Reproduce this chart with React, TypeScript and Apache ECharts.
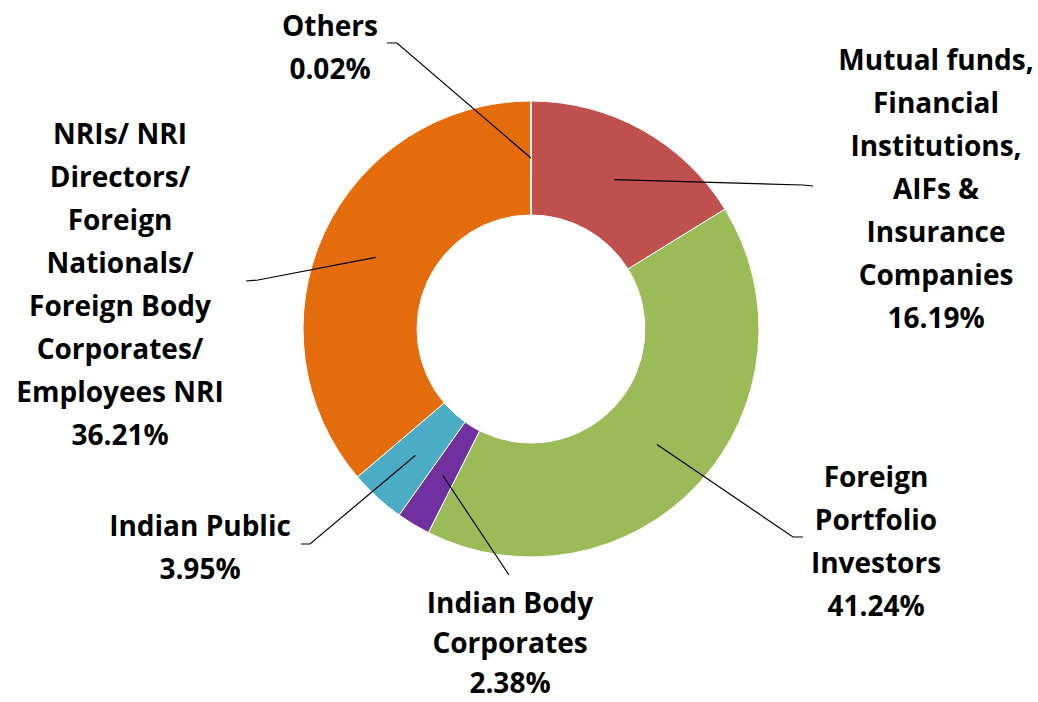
import React, { useEffect, useRef } from "react";
import * as echarts from "echarts";

const categories = [
  "Mutual funds,\nFinancial\nInstitutions,\nAIFs &\nInsurance\nCompanies",
  "Foreign\nPortfolio\nInvestors",
  "Indian Body\nCorporates",
  "Indian Public",
  "NRIs/ NRI\nDirectors/\nForeign\nNationals/\nForeign Body\nCorporates/\nEmployees NRI",
  "Others",
];
const values = [16.19, 41.24, 2.38, 3.95, 36.21, 0.02];
const colors = ["#C0504D", "#9BBB59", "#7030A0", "#4BACC6", "#E46C0A", "#8064A2"];

// label layout (center of text block, elbow and end of leader line)
const labelPos = [
  { x: 936, y: 188, lh: 43, elbow: [803, 185], end: [813, 186] },
  { x: 876, y: 540, lh: 43, elbow: [793, 537], end: [803, 537] },
  { x: 510, y: 642, lh: 40, elbow: [509, 575], end: [509, 575] },
  { x: 200, y: 546, lh: 43, elbow: [310, 544], end: [301, 544] },
  { x: 120, y: 283, lh: 43, elbow: [258, 280], end: [246, 281] },
  { x: 330, y: 46, lh: 43, elbow: [397, 43], end: [387, 43] },
];

const CX = 531;
const CY = 329;
const R_IN = 114;
const R_OUT = 228;

export default function App() {
  const ref = useRef<HTMLDivElement>(null);
  useEffect(() => {
    document.body.style.margin = "0";
    if (!ref.current) return;
    const chart = echarts.init(ref.current, null, { renderer: "svg" });
    const total = values.reduce((a, b) => a + b, 0);
    const cum: number[] = [];
    let acc = 0;
    values.forEach((v) => {
      cum.push(acc);
      acc += v;
    });
    const rMid = (R_IN + R_OUT) / 2;
    const common = {
      type: "pie",
      center: [CX, CY],
      radius: [R_IN, R_OUT],
      startAngle: 90,
      clockwise: true,
      avoidLabelOverlap: false,
      minShowLabelAngle: 0,
      silent: true,
      emphasis: { disabled: true },
    };
    chart.setOption({
      animation: false,
      backgroundColor: "#ffffff",
      series: [
        {
          ...common,
          z: 2,
          data: categories.map((name, i) => ({
            name,
            value: values[i],
            itemStyle: { color: colors[i] },
          })),
          itemStyle: { borderColor: "#ffffff", borderWidth: 1 },
          label: { show: false },
          labelLine: { show: false },
        },
        {
          ...common,
          z: 5,
          data: categories.map((name, i) => ({
            name,
            value: values[i],
            label: { lineHeight: labelPos[i].lh },
          })),
          itemStyle: { color: "rgba(0,0,0,0)", borderWidth: 0 },
          label: {
            show: true,
            position: "outside",
            color: "#000000",
            fontFamily: "'Open Sans', sans-serif",
            fontWeight: "bold",
            fontSize: 28,
            lineHeight: 43,
            align: "center",
            formatter: (p: any) => `${p.name}\n${values[p.dataIndex].toFixed(2)}%`,
          },
          labelLine: {
            show: true,
            lineStyle: { color: "#000000", width: 1.2 },
          },
          labelLayout: (params: any) => {
            const i = params.dataIndex;
            const lp = labelPos[i];
            const theta = (2 * Math.PI * (cum[i] + values[i] / 2)) / total;
            const sx = CX + rMid * Math.sin(theta);
            const sy = CY - rMid * Math.cos(theta);
            return {
              x: lp.x,
              y: lp.y,
              align: "center",
              verticalAlign: "middle",
              labelLinePoints: [[sx, sy], lp.elbow, lp.end],
            };
          },
        },
      ],
    });
    return () => chart.dispose();
  }, []);
  return <div ref={ref} style={{ width: 1038, height: 702 }} />;
}
